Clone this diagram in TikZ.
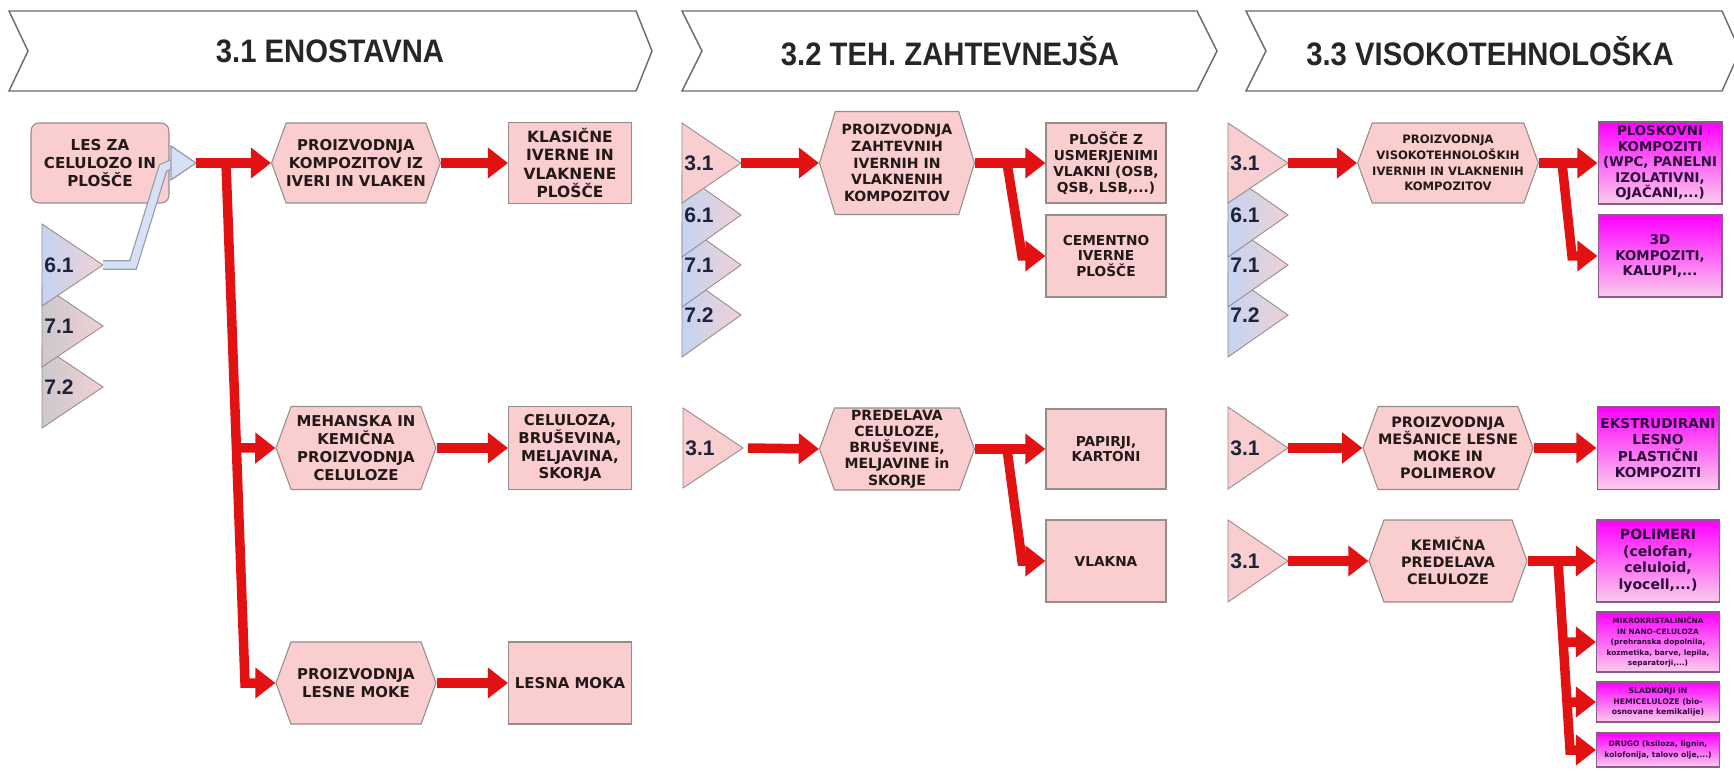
\documentclass[tikz,border=0pt]{standalone}
\usepackage{fontspec}
\usetikzlibrary{arrows.meta,shapes.symbols}
\newfontfamily\boxfont{DejaVu Sans}
\newfontfamily\labelfont{Liberation Sans}
\newfontfamily\headfont[FakeStretch=0.9]{Liberation Sans}
\newcommand\boxsize[2]{\boxfont\bfseries\fontsize{#1}{#2}\selectfont}
\definecolor{boxpink}{RGB}{250,205,207}
\definecolor{edgegray}{RGB}{150,140,140}
\definecolor{boxtext}{RGB}{35,25,25}
\definecolor{arrowred}{RGB}{226,18,18}
\definecolor{magtop}{RGB}{255,0,255}
\definecolor{magbottom}{RGB}{250,205,235}
\definecolor{magedge}{RGB}{140,90,140}
\definecolor{magtext}{RGB}{45,10,60}
\definecolor{triblue}{RGB}{196,212,242}
\definecolor{trigray}{RGB}{205,200,205}
\definecolor{tripink}{RGB}{240,208,212}
\definecolor{tripinkfull}{RGB}{248,206,208}
\definecolor{trilabeltext}{RGB}{30,35,60}
\definecolor{hollowfill}{RGB}{214,225,246}
\definecolor{hollowedge}{RGB}{150,155,170}
\definecolor{banneredge}{RGB}{105,105,105}

\begin{document}
\begin{tikzpicture}[x=0.02cm,y=-0.02cm,
    banner/.style={draw=banneredge,fill=white,line width=0.8pt},
    headtext/.style={font=\headfont\bfseries\fontsize{18.5pt}{21pt}\selectfont,text=black!85},
    hexnode/.style={shape=signal,signal to=east and west,signal pointer angle=140,
      draw=edgegray,fill=boxpink,line width=0.6pt,inner xsep=0pt,inner ysep=1pt,
      align=center,text=boxtext},
    pinkbox/.style={rectangle,draw=edgegray,fill=boxpink,line width=0.6pt,
      inner sep=1pt,align=center,text=boxtext},
    magbox/.style={rectangle,draw=magedge,top color=magtop,bottom color=magbottom,
      line width=0.6pt,inner sep=0.5pt,align=center,text=magtext},
    tri/.style={draw=edgegray,line width=0.5pt},
    trilabel/.style={anchor=west,inner sep=0pt,text=trilabeltext,
      font=\labelfont\bfseries\fontsize{12pt}{12pt}\selectfont},
    redarrow/.style={draw=arrowred,line width=5.4pt,-{Triangle[length=11.5pt,width=17pt]}}]

  \useasboundingbox[fill=white] (0,0) rectangle (1734,771);

  % title bars
  \draw[banner] (9,11) -- (636,11) -- (652,51) -- (636,91) -- (9,91) -- (28,51) -- cycle;
  \draw[banner] (682,11) -- (1197,11) -- (1217,51) -- (1197,91) -- (682,91) -- (702,51) -- cycle;
  \draw[banner] (1246,11) -- (1722,11) -- (1740,51) -- (1722,91) -- (1246,91) -- (1266,51) -- cycle;
  \node[headtext] (h31) at (330,51) {3.1 ENOSTAVNA};
  \node[headtext] (h32) at (950,51) {3.2 TEH. ZAHTEVNEJŠA};
  \node[headtext] (h33) at (1490,51) {3.3 VISOKOTEHNOLOŠKA};

  % column 3.1
  \draw[tri,left color=trigray,right color=tripink] (42,346) -- (103,387) -- (42,428) -- cycle;
  \draw[tri,left color=trigray,right color=tripink] (42,285) -- (103,326) -- (42,367) -- cycle;
  \draw[tri,left color=triblue,right color=tripink] (42,224) -- (103,265) -- (42,306) -- cycle;
  \node[trilabel] (a61) at (44,265) {6.1};
  \node[trilabel] (a71) at (44,326) {7.1};
  \node[trilabel] (a72) at (44,387) {7.2};
  \coordinate (a61tip) at (103,265);

  \node[pinkbox,rounded corners=4.5pt,minimum width=2.76cm,minimum height=1.6cm,
    font=\boxsize{8.6pt}{10.2pt}] (les) at (100,163) {LES ZA\\CELULOZO IN\\PLOŠČE};
  \node[hexnode,minimum width=3.2cm,minimum height=1.6cm,
    font=\boxsize{8.5pt}{10.2pt}] (kompiv) at (356,163) {PROIZVODNJA\\KOMPOZITOV IZ\\IVERI IN VLAKEN};
  \node[hexnode,minimum width=3.2cm,minimum height=1.66cm,
    font=\boxsize{8.5pt}{10.2pt}] (mehkem) at (356,448) {MEHANSKA IN\\KEMIČNA\\PROIZVODNJA\\CELULOZE};
  \node[hexnode,minimum width=3.2cm,minimum height=1.64cm,
    font=\boxsize{8.5pt}{10.2pt}] (mokaproc) at (356,683) {PROIZVODNJA\\LESNE MOKE};
  \node[pinkbox,minimum width=2.46cm,minimum height=1.62cm,
    font=\boxsize{8.8pt}{10.4pt}] (klasicne) at (570,163) {KLASIČNE\\IVERNE IN\\VLAKNENE\\PLOŠČE};
  \node[pinkbox,minimum width=2.46cm,minimum height=1.66cm,
    font=\boxsize{8.5pt}{10.2pt}] (celuloza) at (570,448) {CELULOZA,\\BRUŠEVINA,\\MELJAVINA,\\SKORJA};
  \node[pinkbox,minimum width=2.46cm,minimum height=1.64cm,
    font=\boxsize{8.5pt}{10.2pt}] (lesnamoka) at (570,683) {LESNA MOKA};

  % hollow feed from 6.1
  \coordinate (hollowend) at (174,163);
  \coordinate (hollowtip) at (196,163);
  \draw[draw=hollowedge,double=hollowfill,line width=0.7pt,double distance=4.2pt]
    (a61tip) -- ++(30,0) -- (163,168) -- (hollowend);
  \filldraw[fill=hollowfill,draw=hollowedge,line width=0.7pt]
    (hollowtip) -- ++(-25,-17) -- ++(0,34) -- cycle;

  \coordinate (j1) at (226,163);
  \coordinate (jb) at (245,683);
  \path (j1) -- (jb) coordinate[pos=0.548] (j2);
  \draw[redarrow] (hollowtip) -- (kompiv.west);
  \draw[redarrow] (j1) -- (jb) -- (mokaproc.west);
  \draw[redarrow] (j2) -- (mehkem.west);
  \draw[redarrow] (kompiv.east) -- (klasicne.west);
  \draw[redarrow] (mehkem.east) -- (celuloza.west);
  \draw[redarrow] (mokaproc.east) -- (lesnamoka.west);

  % column 3.2
  \draw[tri,left color=triblue,right color=tripink] (682,273) -- (741,315) -- (682,357) -- cycle;
  \draw[tri,left color=triblue,right color=tripink] (682,223) -- (741,265) -- (682,307) -- cycle;
  \draw[tri,left color=triblue,right color=tripink] (682,173) -- (741,215) -- (682,257) -- cycle;
  \draw[tri,fill=tripinkfull] (682,123) -- (741,163) -- (682,203) -- cycle;
  \draw[tri,fill=tripinkfull] (683,408) -- (743,448) -- (683,488) -- cycle;
  \node[trilabel] (b31) at (684,163) {3.1};
  \node[trilabel] (b61) at (684,215) {6.1};
  \node[trilabel] (b71) at (684,265) {7.1};
  \node[trilabel] (b72) at (684,315) {7.2};
  \node[trilabel] (c31) at (685,448) {3.1};
  \coordinate (b31tip) at (741,163);
  \coordinate (c31tip) at (748,448);

  \node[hexnode,signal pointer angle=146,minimum width=3.1cm,minimum height=2.06cm,
    font=\boxsize{8pt}{9.6pt}] (zahtevni) at (897,163)
    {PROIZVODNJA\\ZAHTEVNIH\\IVERNIH IN\\VLAKNENIH\\KOMPOZITOV};
  \node[pinkbox,minimum width=2.4cm,minimum height=1.6cm,
    font=\boxsize{7.8pt}{9pt}] (usmerjene) at (1106,163) {PLOŠČE Z\\USMERJENIMI\\VLAKNI (OSB,\\QSB, LSB,...)};
  \node[pinkbox,minimum width=2.4cm,minimum height=1.64cm,
    font=\boxsize{7.8pt}{9pt}] (cementne) at (1106,256) {CEMENTNO\\IVERNE\\PLOŠČE};
  \node[hexnode,minimum width=3.1cm,minimum height=1.64cm,
    font=\boxsize{8pt}{9.2pt}] (predelava) at (897,449)
    {PREDELAVA\\CELULOZE,\\BRUŠEVINE,\\MELJAVINE in\\SKORJE};
  \node[pinkbox,minimum width=2.4cm,minimum height=1.6cm,
    font=\boxsize{7.8pt}{9pt}] (papirji) at (1106,449) {PAPIRJI,\\KARTONI};
  \node[pinkbox,minimum width=2.4cm,minimum height=1.64cm,
    font=\boxsize{7.8pt}{9pt}] (vlakna) at (1106,561) {VLAKNA};

  \coordinate (zb1) at (1007,163);
  \coordinate (zb2) at (1022,256);
  \coordinate (pb1) at (1007,449);
  \coordinate (pb2) at (1022,561);
  \draw[redarrow] (b31tip) -- (zahtevni.west);
  \draw[redarrow] (zahtevni.east) -- (usmerjene.west);
  \draw[redarrow] (zb1) -- (zb2) -- (cementne.west);
  \draw[redarrow] (c31tip) -- (predelava.west);
  \draw[redarrow] (predelava.east) -- (papirji.west);
  \draw[redarrow] (pb1) -- (pb2) -- (vlakna.west);

  % column 3.3
  \draw[tri,left color=triblue,right color=tripink] (1228,273) -- (1288,315) -- (1228,357) -- cycle;
  \draw[tri,left color=triblue,right color=tripink] (1228,223) -- (1288,265) -- (1228,307) -- cycle;
  \draw[tri,left color=triblue,right color=tripink] (1228,173) -- (1288,215) -- (1228,257) -- cycle;
  \draw[tri,fill=tripinkfull] (1228,123) -- (1288,163) -- (1228,203) -- cycle;
  \draw[tri,fill=tripinkfull] (1228,407) -- (1288,448) -- (1228,489) -- cycle;
  \draw[tri,fill=tripinkfull] (1228,520) -- (1288,561) -- (1228,602) -- cycle;
  \node[trilabel] (d31) at (1230,163) {3.1};
  \node[trilabel] (d61) at (1230,215) {6.1};
  \node[trilabel] (d71) at (1230,265) {7.1};
  \node[trilabel] (d72) at (1230,315) {7.2};
  \node[trilabel] (e31) at (1230,448) {3.1};
  \node[trilabel] (f31) at (1230,561) {3.1};
  \coordinate (d31tip) at (1288,163);
  \coordinate (e31tip) at (1288,448);
  \coordinate (f31tip) at (1288,561);

  \node[hexnode,minimum width=3.2cm,minimum height=1.6cm,
    font=\boxsize{6.6pt}{9pt}] (visoko) at (1448,163)
    {PROIZVODNJA\\VISOKOTEHNOLOŠKIH\\IVERNIH IN VLAKNENIH\\KOMPOZITOV};
  \node[magbox,minimum width=2.48cm,minimum height=1.64cm,
    font=\boxsize{7.6pt}{8.8pt}] (ploskovni) at (1660,163)
    {PLOSKOVNI\\KOMPOZITI\\(WPC, PANELNI\\IZOLATIVNI,\\OJAČANI,...)};
  \node[magbox,minimum width=2.48cm,minimum height=1.64cm,
    font=\boxsize{7.6pt}{8.8pt}] (tridi) at (1660,256) {3D\\KOMPOZITI,\\KALUPI,...};
  \node[hexnode,minimum width=3.2cm,minimum height=1.66cm,
    font=\boxsize{8.2pt}{9.6pt}] (mesanice) at (1448,448)
    {PROIZVODNJA\\MEŠANICE LESNE\\MOKE IN\\POLIMEROV};
  \node[magbox,minimum width=2.44cm,minimum height=1.66cm,
    font=\boxsize{7.8pt}{9.2pt}] (ekstrud) at (1658,448)
    {EKSTRUDIRANI\\LESNO\\PLASTIČNI\\KOMPOZITI};
  \node[hexnode,minimum width=3.16cm,minimum height=1.64cm,
    font=\boxsize{8.2pt}{9.6pt}] (kemicna) at (1448,561) {KEMIČNA\\PREDELAVA\\CELULOZE};
  \node[magbox,minimum width=2.46cm,minimum height=1.64cm,
    font=\boxsize{8pt}{9.4pt}] (polimeri) at (1658,561)
    {POLIMERI\\(celofan,\\celuloid,\\lyocell,...)};
  \node[magbox,minimum width=2.46cm,minimum height=1.2cm,
    font=\boxsize{4.2pt}{6pt}] (nano) at (1658,642)
    {MIKROKRISTALINIČNA\\IN NANO-CELULOZA\\(prehranska dopolnila,\\kozmetika, barve, lepila,\\separatorji,...)};
  \node[magbox,minimum width=2.46cm,minimum height=0.8cm,
    font=\boxsize{4.4pt}{6.2pt}] (sladkor) at (1658,702)
    {SLADKORJI IN\\HEMICELULOZE (bio-\\osnovane kemikalije)};
  \node[magbox,minimum width=2.46cm,minimum height=0.68cm,
    font=\boxsize{4.3pt}{6.2pt}] (drugo) at (1658,750)
    {DRUGO (ksiloza, lignin,\\kolofonija, talovo olje,...)};

  \coordinate (vb1) at (1562,163);
  \coordinate (vb2) at (1572,256);
  \coordinate (kb1) at (1558,561);
  \coordinate (kb4) at (1570,750);
  \path (kb1) -- (kb4) coordinate[pos=0.4286] (kb2) coordinate[pos=0.746] (kb3);
  \draw[redarrow] (d31tip) -- (visoko.west);
  \draw[redarrow] (visoko.east) -- (ploskovni.west);
  \draw[redarrow] (vb1) -- (vb2) -- (tridi.west);
  \draw[redarrow] (e31tip) -- (mesanice.west);
  \draw[redarrow] (mesanice.east) -- (ekstrud.west);
  \draw[redarrow] (f31tip) -- (kemicna.west);
  \draw[redarrow] (kemicna.east) -- (polimeri.west);
  \draw[redarrow] (kb1) -- (kb4) -- (drugo.west);
  \draw[redarrow] (kb2) -- (nano.west);
  \draw[redarrow] (kb3) -- (sladkor.west);

\end{tikzpicture}
\end{document}
